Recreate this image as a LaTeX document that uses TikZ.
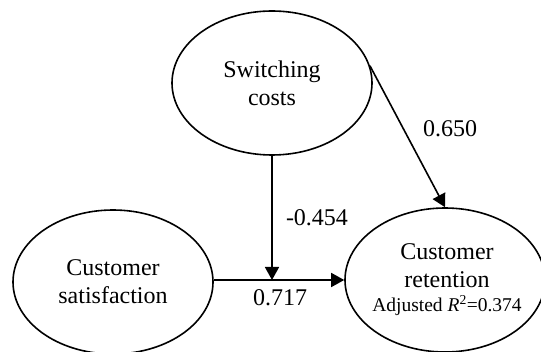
\documentclass[tikz,border=0pt]{standalone}
\usepackage{fontspec}
\setmainfont{Liberation Serif}
\usetikzlibrary{shapes.geometric,arrows.meta}

\begin{document}
\begin{tikzpicture}[x=1pt, y=-1pt, line width=1.6pt,
  oval/.style={ellipse, draw, minimum width=200pt, minimum height=144pt, inner sep=0pt},
  construct/.style={align=center, font=\fontsize{24}{28}\selectfont},
  coef/.style={font=\fontsize{24}{28}\selectfont},
  effect/.style={-{Triangle[length=13pt, width=14pt]}}]
  \useasboundingbox (0,0) rectangle (541,352);
  \node[oval](sw) at (272,83){};
  \node[oval](sat) at (113,282){};
  \node[oval](ret) at (445,280){};
  \node[construct](swtext) at (sw){Switching\\costs};
  \node[construct](sattext) at (sat){Customer\\satisfaction};
  \node[construct](rettext) at (447,280){Customer\\retention\\[-4pt]
    {\fontsize{19.5}{22}\selectfont Adjusted \textit{R}\textsuperscript{2}=0.374}};
  \coordinate(meet) at (sw.south |- ret.west);
  \draw[effect] (sat.east |- ret.west) -- (ret.west);
  \draw[effect] (sw.south) -- (meet);
  \draw[effect] (sw.10) -- (ret.north);
  \node[coef](c1) at (450,129){0.650};
  \node[coef](c2) at (317,218){-0.454};
  \node[coef](c3) at (280,298){0.717};
\end{tikzpicture}
\end{document}
